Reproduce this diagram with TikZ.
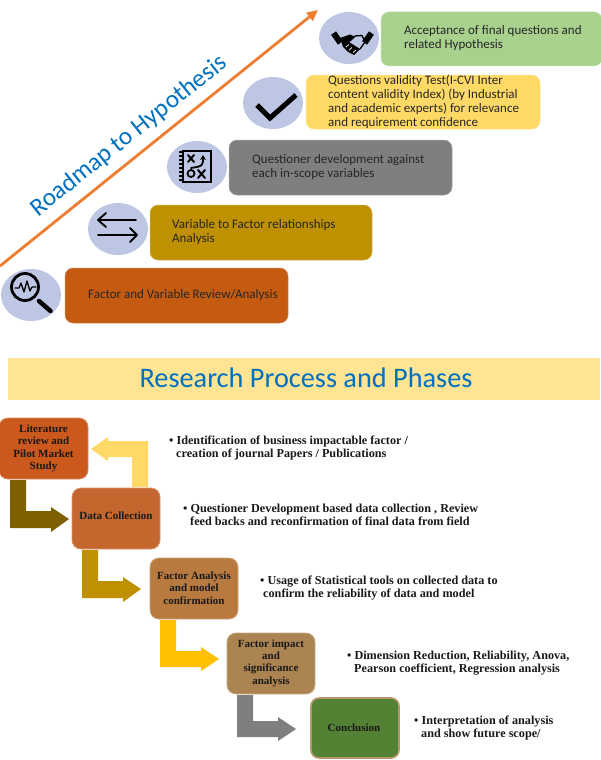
\documentclass[tikz,border=0pt]{standalone}
\usepackage{fontspec}
\setmainfont{Liberation Serif}
\newfontfamily\calfont{Carlito}
\usetikzlibrary{arrows.meta}
\definecolor{circ}{HTML}{BDC7E3}
\definecolor{orangeline}{HTML}{ED7D31}
\definecolor{bluetxt}{HTML}{0070C0}
\definecolor{c1}{HTML}{C55A11}\definecolor{c2}{HTML}{BF9000}\definecolor{c3}{HTML}{7F7F7F}\definecolor{c4}{HTML}{FFD966}\definecolor{c5}{HTML}{A9D18E}
\definecolor{p1}{HTML}{CB581C}\definecolor{p2}{HTML}{C3672E}\definecolor{p3}{HTML}{B97A3F}\definecolor{p4}{HTML}{AB8452}\definecolor{p5}{HTML}{548235}
\definecolor{a1}{HTML}{7F6000}\definecolor{a3}{HTML}{FFC000}
\tikzset{
 x=1pt,y=-1pt,
 stepbox/.style={rounded corners=8pt,draw=#1!70!white,fill=#1,line width=.5pt},
 topbox/.style={font=\calfont\fontsize{13}{14}\selectfont,text=black!85,align=left,anchor=west,inner sep=0pt},
 phase/.style={rounded corners=9pt,draw=#1!70!white,fill=#1,line width=.8pt},
 phtxt/.style={font=\bfseries\fontsize{11}{12.4}\selectfont,align=center,text=black!90,inner sep=0pt},
 note/.style={font=\bfseries\fontsize{12.2}{13.4}\selectfont,align=left,anchor=west,inner sep=0pt,text=black!90},
 icon/.style={line width=#1,draw=black,line cap=round,line join=round},
 icon/.default=2.4pt
}
% \bent{color}{x1}{x2}{ytop}{yband1}{yband2}{xbase}{xtip}
\newcommand{\bent}[8]{\fill[#1] (#2,#4) -- (#3,#4) -- (#3,#5) -- (#7,#5) -- (#7,#5-4) -- (#8,#5+8) -- (#7,#6+4) -- (#7,#6) -- (#2,#6) -- cycle;}
\begin{document}
\begin{tikzpicture}
\useasboundingbox (0,0) rectangle (600,760);
% orange line
\coordinate (ls) at (0,266);
\coordinate (le) at (318,10);
\draw[orangeline,line width=2.8pt,-{Triangle[length=11pt,width=10pt]}] (ls) -- (le);
\node[font=\calfont\fontsize{25.2}{30}\selectfont,text=bluetxt,rotate=38.6,inner sep=0pt] (road) at (129,136) {Roadmap to Hypothesis};
% boxes
\draw[stepbox=c1] (65,268) rectangle (288,323);
\draw[stepbox=c2] (150,205) rectangle (372,260);
\draw[stepbox=c3] (229,140) rectangle (452,195);
\draw[stepbox=c4] (306,75) rectangle (540,129);
\draw[stepbox=c5] (381,12) rectangle (602,66);
\node[topbox] (t1) at (88,295) {Factor and Variable Review/Analysis};
\node[topbox] (t2) at (172,232) {Variable to Factor relationships\\Analysis};
\node[topbox] (t3) at (252,167) {Questioner development against\\each in-scope variables};
\node[topbox] (t4) at (328,102) {Questions validity Test(I-CVI Inter\\content validity Index) (by Industrial\\and academic experts) for relevance\\and requirement confidence};
\node[topbox] (t5) at (404,38) {Acceptance of final questions and\\related Hypothesis};
% circles
\fill[circ] (31,295) ellipse (30 and 26);
\fill[circ] (118,229) ellipse (30 and 26);
\fill[circ] (197,167) ellipse (30 and 26);
\fill[circ] (273,103) ellipse (30 and 26);
\fill[circ] (349,38) ellipse (30 and 26);
% magnifier
\draw[icon=2.8pt] (25,287) circle (13.5);
\draw[icon=4.5pt] (39,301) -- (50.5,311);
\draw[icon=1.3pt] (15,288) -- (19,288) -- (21,283) -- (24,292) -- (27,281) -- (30,291) -- (32,287) -- (36,287);
% swap arrows
\draw[icon=1.8pt] (136,220) -- (98,220) (106,213) -- (98,220) -- (106,227);
\draw[icon=1.8pt] (98,235) -- (137,235) (130,228) -- (137,235) -- (130,242);
% map icon
\draw[icon=2pt,line cap=butt,line join=miter] (183,150.5) rectangle (211,182);
\foreach \yy in {152,156,160,164,168,172,176,180}{\draw[icon=1.3pt] (179.5,\yy) -- (183,\yy);}
\draw[icon=2pt] (188,155) -- (194,162) (194,155) -- (188,162);
\draw[icon=2pt] (198,170) -- (205,178) (205,170) -- (198,178);
\draw[icon=1.8pt] (191,173.5) circle (3.5);
\draw[icon=1.8pt,-{Stealth[length=5pt,width=6pt]}] (191,168) -- (197,167) .. controls (203,166) and (203,163) .. (203,155);
% check
\draw[icon=5pt,line cap=butt,line join=miter] (257,105) -- (270,118) -- (296,95);
% handshake
\fill[black,rotate around={35:(337,38)}] (334,32) rectangle (340,44);
\fill[black,rotate around={-35:(368,38)}] (365,32) rectangle (371,44);
\fill[black] (340,38) -- (350,34.5) -- (355,37) -- (349,42) -- (360,49) -- (357,52) -- (354,55) -- (348,52) -- (343,47) -- cycle;
\draw[icon=1.3pt] (350,41) -- (355,36) -- (362,35.5) -- (365,42) -- (360,49);
\draw[white,line width=.7pt] (346,47) -- (349,44.5) (349,50) -- (352,47.5) (353,52.5) -- (356,50);
% banner
\fill[c4!70!white] (8,358) rectangle (600,400);
\node[font=\calfont\fontsize{28.3}{30}\selectfont,text=bluetxt,inner sep=0pt] (title) at (306,378) {Research Process and Phases};
% phase boxes
\draw[phase=p1] (-1,418) rectangle (88,479);
\draw[phase=p2] (72,488) rectangle (160,549);
\draw[phase=p3] (150,558) rectangle (238,619);
\draw[phase=p4] (227,633) rectangle (315,694);
\draw[fill=p5,rounded corners=8pt,draw=p4!85!white,line width=1.6pt] (311,698) rectangle (399,758);
\node[phtxt] (b1) at (43.5,448.5) {Literature\\review and\\Pilot Market\\Study};
\node[phtxt] (b2) at (116,515.5) {Data Collection};
\node[phtxt] (b3) at (194,588) {Factor Analysis\\and model\\confirmation};
\node[phtxt] (b4) at (271,663) {Factor impact\\and\\significance\\analysis};
\node[phtxt] (b5) at (354,727.5) {Conclusion};
% arrows
\fill[c4] (132,487) -- (132,457) -- (108,457) -- (108,461) -- (91,449) -- (108,437) -- (108,441) -- (148,441) -- (148,487) -- cycle;
\bent{a1}{10}{26}{480}{511}{528}{51}{69}
\bent{c2}{82}{98}{550}{581}{598}{123}{141}
\bent{a3}{160}{176}{620}{651}{667}{201}{219}
\bent{c3}{237}{253}{695}{721}{737}{278}{296}
% notes
\node[note] (n1) at (169,448) {• Identification of business impactable factor /\\\hspace*{7pt}creation of journal Papers / Publications};
\node[note] (n2) at (183,515) {• Questioner Development based data collection , Review\\\hspace*{7pt}feed backs and reconfirmation of final data from field};
\node[note] (n3) at (260,588) {• Usage of Statistical tools on collected data to\\\hspace*{3pt}confirm the reliability of data and model};
\node[note] (n4) at (347,663) {• Dimension Reduction, Reliability, Anova,\\\hspace*{7pt}Pearson coefficient, Regression analysis};
\node[note] (n5) at (414,728) {• Interpretation  of analysis\\\hspace*{7pt}and show future scope/};
\end{tikzpicture}
\end{document}
